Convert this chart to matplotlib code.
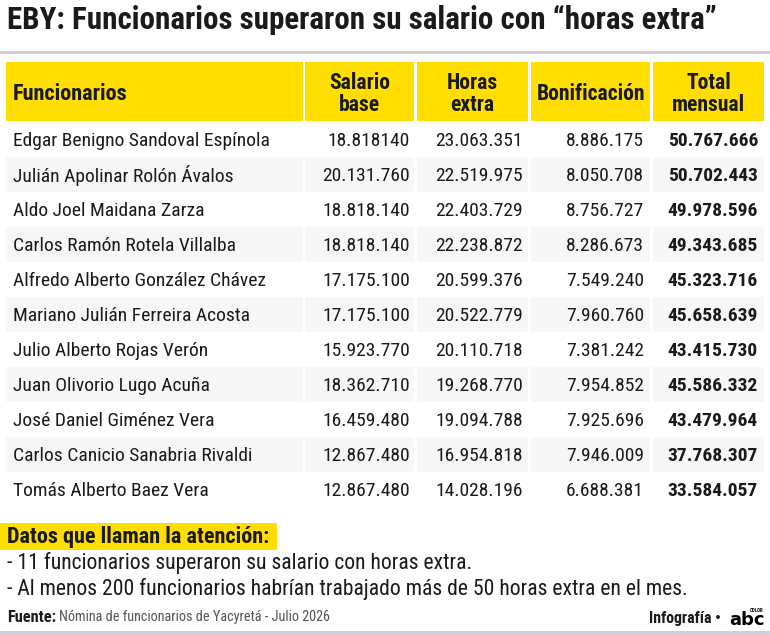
import matplotlib

matplotlib.use("Agg")
import matplotlib.pyplot as plt
from matplotlib.patches import Rectangle

plt.rcParams["font.family"] = ["Roboto Condensed", "Archivo Narrow", "Liberation Sans", "DejaVu Sans"]

TITLE = "EBY: Funcionarios superaron su salario con “horas extra”"
headers = ["Funcionarios", "Salario\nbase", "Horas\nextra", "Bonificación", "Total\nmensual"]
names = [
    "Edgar Benigno Sandoval Espínola",
    "Julián Apolinar Rolón Ávalos",
    "Aldo Joel Maidana Zarza",
    "Carlos Ramón Rotela Villalba",
    "Alfredo Alberto González Chávez",
    "Mariano Julián Ferreira Acosta",
    "Julio Alberto Rojas Verón",
    "Juan Olivorio Lugo Acuña",
    "José Daniel Giménez Vera",
    "Carlos Canicio Sanabria Rivaldi",
    "Tomás Alberto Baez Vera",
]
salario = ["18.818140", "20.131.760", "18.818.140", "18.818.140", "17.175.100", "17.175.100",
           "15.923.770", "18.362.710", "16.459.480", "12.867.480", "12.867.480"]
horas = ["23.063.351", "22.519.975", "22.403.729", "22.238.872", "20.599.376", "20.522.779",
         "20.110.718", "19.268.770", "19.094.788", "16.954.818", "14.028.196"]
bonif = ["8.886.175", "8.050.708", "8.756.727", "8.286.673", "7.549.240", "7.960.760",
         "7.381.242", "7.954.852", "7.925.696", "7.946.009", "6.688.381"]
total = ["50.767.666", "50.702.443", "49.978.596", "49.343.685", "45.323.716", "45.658.639",
         "43.415.730", "45.586.332", "43.479.964", "37.768.307", "33.584.057"]
notes_title = "Datos que llaman la atención:"
notes = [
    "- 11 funcionarios superaron su salario con horas extra.",
    "- Al menos 200 funcionarios habrían trabajado más de 50 horas extra en el mes.",
]
source_label = "Fuente:"
source_text = "Nómina de funcionarios de Yacyretá - Julio 2026"

YELLOW = "#ffde00"
GREY = "#cfcfd6"
ZEBRA = "#f7f7f8"
INK = "#1a1a1a"

# column edges in pixels
col_edges = [(6, 303), (305, 414), (417, 528), (531, 650), (653, 764)]
right_x = [None, 410, 523, 644, 758]

fig = plt.figure(figsize=(7.7, 6.35), dpi=100)
ax = fig.add_axes([0, 0, 1, 1])
ax.set_xlim(0, 770)
ax.set_ylim(635, 0)
ax.axis("off")


def box(x0, y0, x1, y1, color):
    ax.add_patch(Rectangle((x0, y0), x1 - x0, y1 - y0, color=color, lw=0))


ax.text(7, 20, TITLE, fontsize=22.35, fontweight="bold", color=INK, va="center")
box(0, 51, 770, 54, GREY)

# header row
for (x0, x1), head in zip(col_edges, headers):
    box(x0, 62, x1, 121, YELLOW)
ax.text(13, 94, headers[0], fontsize=16, fontweight="bold", color=INK, va="center")
for (x0, x1), head in list(zip(col_edges, headers))[1:]:
    ax.text((x0 + x1) / 2, 94, head, fontsize=15.6, fontweight="bold", color=INK,
            ha="center", va="center", linespacing=1.05)

# body rows
for i, name in enumerate(names):
    y = 139 + i * 35.1
    if i % 2 == 1:
        for x0, x1 in col_edges:
            box(x0, y - 17.5, x1, y + 17.5, ZEBRA)
    ty = y + 1.5
    ax.text(13, ty, name, fontsize=14, color=INK, va="center")
    ax.text(right_x[1], ty, salario[i], fontsize=14, color=INK, ha="right", va="center")
    ax.text(right_x[2], ty, horas[i], fontsize=14, color=INK, ha="right", va="center")
    ax.text(right_x[3], ty, bonif[i], fontsize=14, color=INK, ha="right", va="center")
    ax.text(right_x[4], ty, total[i], fontsize=14, fontweight="bold", color=INK,
            ha="right", va="center")

# notes block
box(0, 523, 277, 550, YELLOW)
ax.text(7, 537, notes_title, fontsize=16, fontweight="bold", color=INK, va="center")
ax.text(7, 562.5, notes[0], fontsize=15.6, color=INK, va="center")
ax.text(7, 588.5, notes[1], fontsize=15.6, color=INK, va="center")

# footer
ax.text(7, 617, source_label, fontsize=11.8, fontweight="bold", color=INK, va="center")
ax.text(59, 617, source_text, fontsize=10.3, color="#555555", va="center")
ax.text(721, 618, "Infografía •", fontsize=11.4, fontweight="bold", color=INK, ha="right", va="center")
ax.text(765, 620, "abc", fontsize=13, fontweight="bold", family="DejaVu Sans", color="black",
        ha="right", va="center")
ax.text(763, 610, "COLOR", fontsize=3.5, fontweight="bold", color="black", ha="right", va="center")
box(0, 631, 770, 635, GREY)

fig.savefig("out.png", dpi=100)
